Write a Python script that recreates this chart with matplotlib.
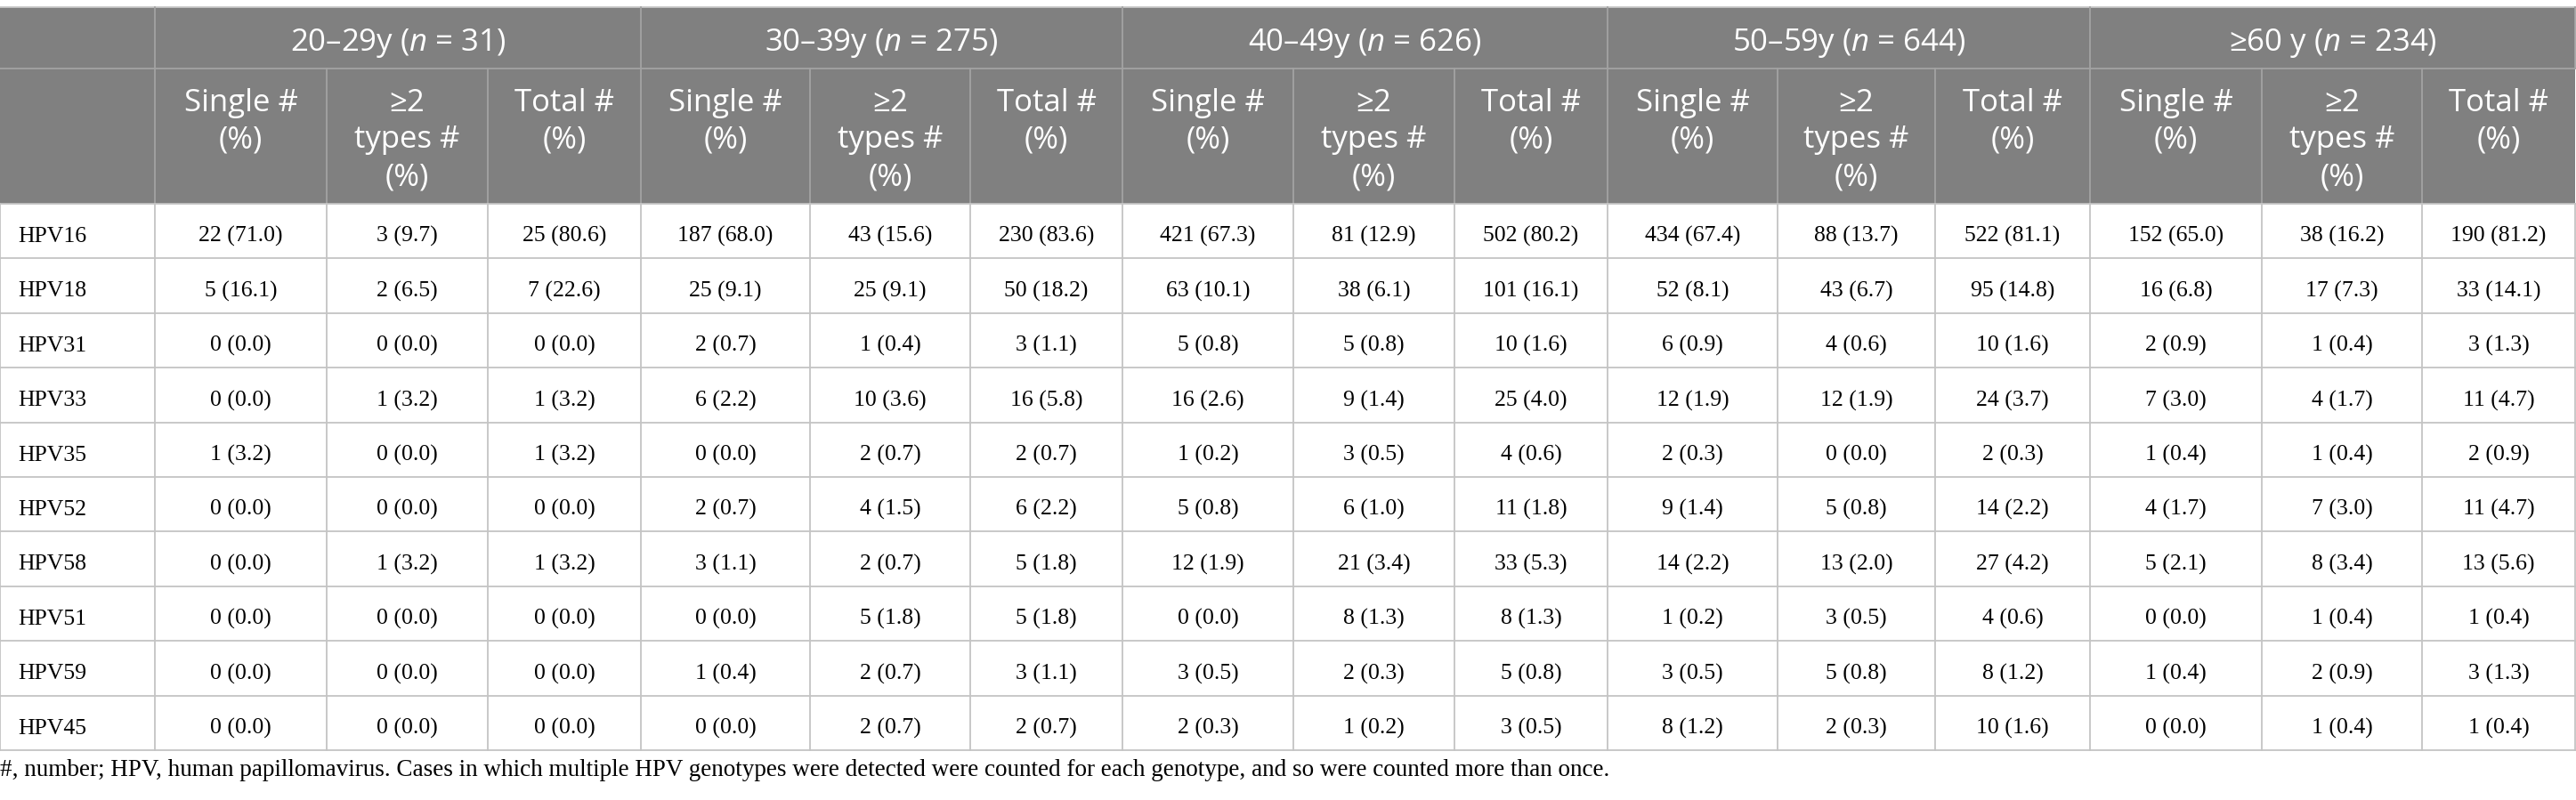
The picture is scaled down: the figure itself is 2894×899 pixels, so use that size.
import matplotlib
matplotlib.use("Agg")
import matplotlib.pyplot as plt
from matplotlib.patches import Rectangle

plt.rcParams["mathtext.fontset"] = "custom"
plt.rcParams["mathtext.rm"] = "Open Sans"
plt.rcParams["mathtext.it"] = "Open Sans:italic"

genotypes = ["HPV16", "HPV18", "HPV31", "HPV33", "HPV35",
             "HPV52", "HPV58", "HPV51", "HPV59", "HPV45"]
age_groups = ["20\u201329y", "30\u201339y", "40\u201349y", "50\u201359y", "\u226560 y"]
group_n = [31, 275, 626, 644, 234]
sub_headers = ["Single #\n(%)", "\u22652\ntypes #\n(%)", "Total #\n(%)"]

single_counts = [
    [22, 5, 0, 0, 1, 0, 0, 0, 0, 0],
    [187, 25, 2, 6, 0, 2, 3, 0, 1, 0],
    [421, 63, 5, 16, 1, 5, 12, 0, 3, 2],
    [434, 52, 6, 12, 2, 9, 14, 1, 3, 8],
    [152, 16, 2, 7, 1, 4, 5, 0, 1, 0],
]
single_pct = [
    [71.0, 16.1, 0.0, 0.0, 3.2, 0.0, 0.0, 0.0, 0.0, 0.0],
    [68.0, 9.1, 0.7, 2.2, 0.0, 0.7, 1.1, 0.0, 0.4, 0.0],
    [67.3, 10.1, 0.8, 2.6, 0.2, 0.8, 1.9, 0.0, 0.5, 0.3],
    [67.4, 8.1, 0.9, 1.9, 0.3, 1.4, 2.2, 0.2, 0.5, 1.2],
    [65.0, 6.8, 0.9, 3.0, 0.4, 1.7, 2.1, 0.0, 0.4, 0.0],
]
multi_counts = [
    [3, 2, 0, 1, 0, 0, 1, 0, 0, 0],
    [43, 25, 1, 10, 2, 4, 2, 5, 2, 2],
    [81, 38, 5, 9, 3, 6, 21, 8, 2, 1],
    [88, 43, 4, 12, 0, 5, 13, 3, 5, 2],
    [38, 17, 1, 4, 1, 7, 8, 1, 2, 1],
]
multi_pct = [
    [9.7, 6.5, 0.0, 3.2, 0.0, 0.0, 3.2, 0.0, 0.0, 0.0],
    [15.6, 9.1, 0.4, 3.6, 0.7, 1.5, 0.7, 1.8, 0.7, 0.7],
    [12.9, 6.1, 0.8, 1.4, 0.5, 1.0, 3.4, 1.3, 0.3, 0.2],
    [13.7, 6.7, 0.6, 1.9, 0.0, 0.8, 2.0, 0.5, 0.8, 0.3],
    [16.2, 7.3, 0.4, 1.7, 0.4, 3.0, 3.4, 0.4, 0.9, 0.4],
]
total_counts = [
    [25, 7, 0, 1, 1, 0, 1, 0, 0, 0],
    [230, 50, 3, 16, 2, 6, 5, 5, 3, 2],
    [502, 101, 10, 25, 4, 11, 33, 8, 5, 3],
    [522, 95, 10, 24, 2, 14, 27, 4, 8, 10],
    [190, 33, 3, 11, 2, 11, 13, 1, 3, 1],
]
total_pct = [
    [80.6, 22.6, 0.0, 3.2, 3.2, 0.0, 3.2, 0.0, 0.0, 0.0],
    [83.6, 18.2, 1.1, 5.8, 0.7, 2.2, 1.8, 1.8, 1.1, 0.7],
    [80.2, 16.1, 1.6, 4.0, 0.6, 1.8, 5.3, 1.3, 0.8, 0.5],
    [81.1, 14.8, 1.6, 3.7, 0.3, 2.2, 4.2, 0.6, 1.2, 1.6],
    [81.2, 14.1, 1.3, 4.7, 0.9, 4.7, 5.6, 0.4, 1.3, 0.4],
]

footnote = ("#, number; HPV, human papillomavirus. Cases in which multiple HPV "
            "genotypes were detected were counted for each genotype, and so were "
            "counted more than once.")

# layout in pixels
W, H = 2894, 899
col_edges = [0, 174, 367, 548, 720, 910, 1090, 1261, 1453, 1634,
             1806, 1997, 2174, 2348, 2541, 2721, 2893]
y_top, y_h1, y_h2 = 8, 77, 229
row_h = (843 - y_h2) / len(genotypes)

head_bg = "#808080"
head_line = "#a3a3a3"
body_line = "#c4c4c4"
sans = ["Open Sans", "DejaVu Sans"]
serif = ["Liberation Serif", "DejaVu Serif"]
head_fs = 25
body_fs = 18.5

fig = plt.figure(figsize=(W / 100, H / 100), dpi=100)
ax = fig.add_axes([0, 0, 1, 1])
ax.set_xlim(0, W)
ax.set_ylim(H, 0)
ax.axis("off")

y_bot = y_h2 + row_h * len(genotypes)
right = col_edges[-1]

# header background
ax.add_patch(Rectangle((0, y_top), right, y_h2 - y_top, color=head_bg, lw=0, zorder=0))

lw = 1.3
ax.plot([0, right], [y_top, y_top], color="#c8c8c8", lw=lw)
ax.plot([0, right], [y_h1, y_h1], color=head_line, lw=lw)
# group dividers in first header row
for g in range(len(age_groups) + 1):
    x = col_edges[1 + 3 * g]
    ax.plot([x, x], [y_top, y_h1], color=head_line, lw=lw)
# column dividers in second header row
for x in col_edges[1:-1]:
    ax.plot([x, x], [y_h1, y_h2], color=head_line, lw=lw)

# body grid
for i in range(len(genotypes) + 1):
    y = y_h2 + i * row_h
    ax.plot([0, right], [y, y], color=body_line, lw=lw)
for x in col_edges:
    ax.plot([x, x], [y_h2, y_bot], color=body_line, lw=lw)

# header texts
for g, (name, n) in enumerate(zip(age_groups, group_n)):
    x0, x1 = col_edges[1 + 3 * g], col_edges[4 + 3 * g]
    ax.text((x0 + x1) / 2, 57, f"{name} ($n$ = {n})",
            ha="center", va="baseline", color="white", fontsize=head_fs, family=sans)
    for k, lab in enumerate(sub_headers):
        c = 1 + 3 * g + k
        xc = (col_edges[c] + col_edges[c + 1]) / 2
        for j, line in enumerate(lab.split("\n")):
            ax.text(xc, 125 + j * 41.5, line, ha="center", va="baseline",
                    color="white", fontsize=head_fs, family=sans)

# body texts
group_cols = [
    (single_counts, single_pct),
    (multi_counts, multi_pct),
    (total_counts, total_pct),
]
for r, gt in enumerate(genotypes):
    yb = y_h2 + r * row_h + 43
    ax.text(20, yb, gt, ha="left", va="baseline", fontsize=body_fs, family=serif)
    for g in range(len(age_groups)):
        for k, (counts, pcts) in enumerate(group_cols):
            c = 1 + 3 * g + k
            ax.text((col_edges[c] + col_edges[c + 1]) / 2, yb,
                    f"{counts[g][r]} ({pcts[g][r]:.1f})",
                    ha="center", va="baseline", fontsize=body_fs, family=serif)

ax.text(0, 872, footnote, ha="left", va="baseline", fontsize=19.5, family=serif)

fig.savefig("out.png", dpi=100)
